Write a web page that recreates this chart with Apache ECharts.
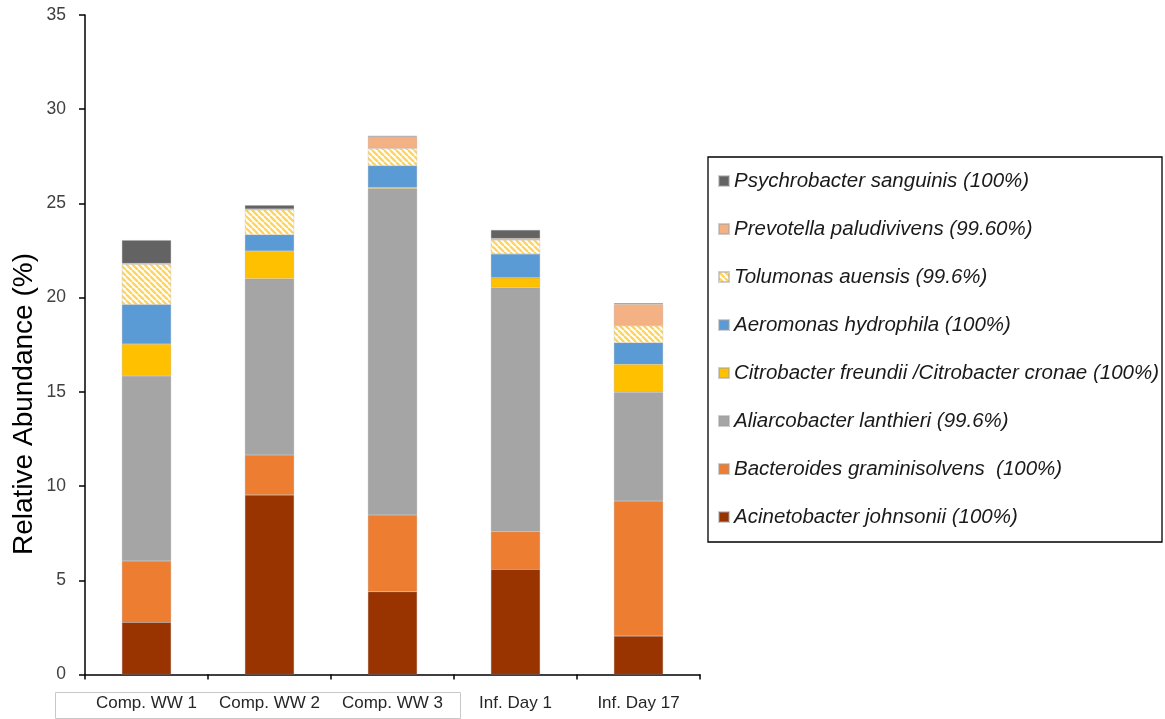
<!DOCTYPE html>
<html>
<head>
<meta charset="utf-8">
<script src="https://cdn.jsdelivr.net/npm/echarts@6/dist/echarts.min.js"></script>
<style>
  html, body { margin: 0; padding: 0; background: #fff; }
  #chart { width: 1165px; height: 719px; }
</style>
</head>
<body>
<div id="chart"></div>
<script>
// Samples along the x axis
const samples = ['Comp. WW 1', 'Comp. WW 2', 'Comp. WW 3', 'Inf. Day 1', 'Inf. Day 17'];

// Relative abundance (%) of each species per sample, stacked bottom to top
const acinetobacter  = [2.77, 9.53, 4.39, 5.58, 2.04];
const bacteroides    = [3.25, 2.12, 4.08, 2.00, 7.17];
const aliarcobacter  = [9.82, 9.35, 17.32, 12.95, 5.77];
const citrobacter    = [1.70, 1.48, 0.06, 0.52, 1.48];
const aeromonas      = [2.09, 0.86, 1.15, 1.27, 1.15];
const tolumonas      = [2.14, 1.32, 0.91, 0.74, 0.90];
const prevotella     = [0.05, 0.05, 0.64, 0.08, 1.14];
const psychrobacter  = [1.23, 0.19, 0.04, 0.45, 0.05];

const yTicks = { min: 0, max: 35, interval: 5 };

const speciesNames = [
  'Acinetobacter johnsonii (100%)',
  'Bacteroides graminisolvens  (100%)',
  'Aliarcobacter lanthieri (99.6%)',
  'Citrobacter freundii /Citrobacter cronae (100%)',
  'Aeromonas hydrophila (100%)',
  'Tolumonas auensis (99.6%)',
  'Prevotella paludivivens (99.60%)',
  'Psychrobacter sanguinis (100%)'
];

// Diagonal hatch fill for Tolumonas
function hatchPattern() {
  const s = 6;
  const c = document.createElement('canvas');
  c.width = s; c.height = s;
  const g = c.getContext('2d');
  g.fillStyle = '#ffffff';
  g.fillRect(0, 0, s, s);
  g.strokeStyle = '#FFD45E';
  g.lineWidth = 2.3;
  g.beginPath();
  for (let k = -1; k <= 1; k++) {
    g.moveTo(k * s, 0);
    g.lineTo(k * s + s, s);
  }
  g.stroke();
  return { image: c, repeat: 'repeat' };
}

const fills = ['#993300', '#ED7D31', '#A5A5A5', '#FFC000', '#5B9BD5', hatchPattern(), '#F4B183', '#636363'];
const values = [acinetobacter, bacteroides, aliarcobacter, citrobacter, aeromonas, tolumonas, prevotella, psychrobacter];

const series = speciesNames.map((name, i) => ({
  name: name,
  type: 'bar',
  stack: 'abundance',
  barWidth: '40%',
  itemStyle: { color: fills[i], borderColor: 'rgba(160,160,160,0.5)', borderWidth: 0.5 },
  emphasis: { disabled: true },
  data: values[i]
}));

const chart = echarts.init(document.getElementById('chart'), null, { renderer: 'canvas' });
chart.setOption({
  animation: false,
  backgroundColor: '#ffffff',
  grid: { left: 85, right: 465, top: 15, bottom: 44.5, containLabel: false },
  xAxis: {
    type: 'category',
    data: samples,
    axisLine: { lineStyle: { color: '#000', width: 1.5 } },
    axisTick: { show: true, length: 5, interval: 0, lineStyle: { color: '#000', width: 1.5 } },
    axisLabel: { interval: 0, color: '#262626', fontSize: 17, fontFamily: 'Liberation Sans, sans-serif', margin: 20 }
  },
  yAxis: {
    type: 'value',
    min: yTicks.min, max: yTicks.max, interval: yTicks.interval,
    splitLine: { show: false },
    axisLine: { show: true, lineStyle: { color: '#000', width: 1.5 } },
    axisTick: { show: true, length: 6, inside: false, lineStyle: { color: '#000', width: 1.5 } },
    axisLabel: { color: '#404040', fontSize: 17.5, fontFamily: 'Liberation Sans, sans-serif', margin: 19 }
  },
  legend: {
    orient: 'vertical',
    left: 708, top: 157,
    padding: [14, 10, 14, 10],
    itemWidth: 10, itemHeight: 10,
    itemGap: 28,
    icon: 'rect',
    selectedMode: false,
    data: speciesNames.slice().reverse(),
    textStyle: { color: '#1a1a1a', fontSize: 20.5, fontStyle: 'italic', fontFamily: 'Liberation Sans, sans-serif', lineHeight: 20 }
  },
  graphic: [
    {
      type: 'rect',
      shape: { x: 708, y: 157, width: 454, height: 385 },
      style: { fill: 'none', stroke: '#000', lineWidth: 1.3 },
      silent: true
    },
    {
      type: 'rect',
      shape: { x: 55.5, y: 692.5, width: 405, height: 26 },
      style: { fill: 'none', stroke: '#c8c8c8', lineWidth: 1 },
      silent: true
    },
    {
      type: 'text', x: 24, y: 404, rotation: Math.PI / 2,
      style: { text: 'Relative Abundance (%)', fill: '#000', fontSize: 28, fontFamily: 'Liberation Sans, sans-serif', textAlign: 'center', textVerticalAlign: 'middle' },
      silent: true
    }
  ],
  series: series
});
</script>
</body>
</html>
